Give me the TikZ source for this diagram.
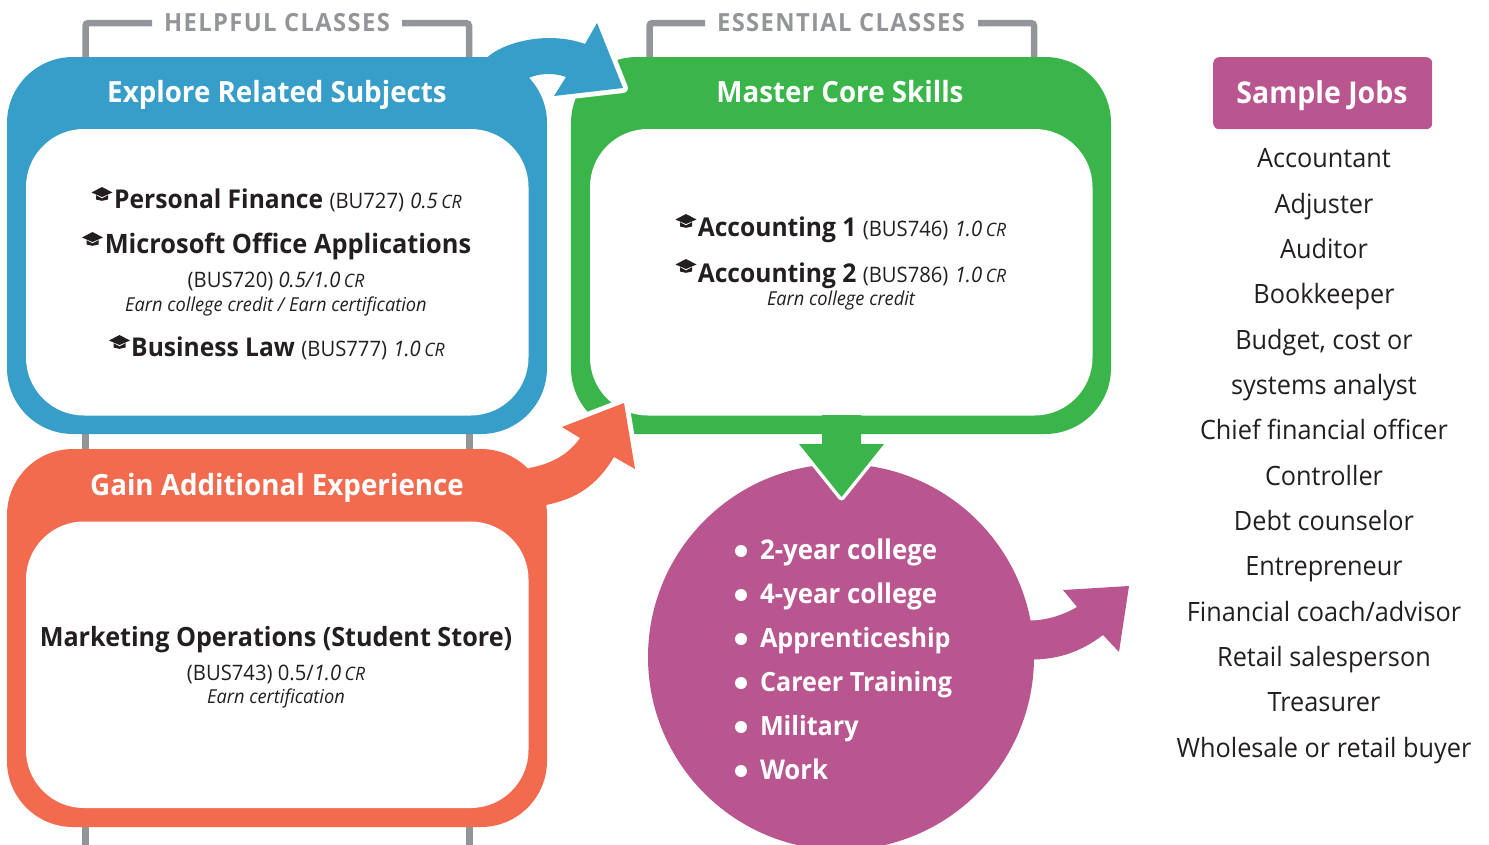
\documentclass[tikz,border=0pt]{standalone}
\usepackage{fontspec}
\setmainfont[FakeStretch=0.95]{Open Sans}
\definecolor{cblue}{HTML}{379EC9}
\definecolor{cgreen}{HTML}{3AB54A}
\definecolor{corange}{HTML}{F36B4E}
\definecolor{cpurple}{HTML}{B9558F}
\definecolor{cgray}{HTML}{939598}
\definecolor{cink}{HTML}{231F20}
\newcommand{\hd}{\fontsize{29.2}{32}\selectfont\bfseries}
\newcommand{\crs}{\fontsize{26.5}{30}\selectfont\bfseries}
\newcommand{\crt}{\fontsize{25.9}{30}\selectfont\bfseries}
\newcommand{\itm}{\fontsize{27.2}{30}\selectfont\bfseries}
\newcommand{\nm}{\fontsize{21.3}{24}\selectfont\mdseries}
\newcommand{\itl}{\fontsize{21.3}{24}\selectfont\mdseries\itshape}
\newcommand{\crm}{\fontsize{18.5}{24}\selectfont\mdseries\itshape}
\newcommand{\ear}{\fontsize{19.2}{22}\selectfont\mdseries\itshape}
\tikzset{
  x=1pt,y=-1pt,
  outerbox/.style={rectangle,rounded corners=66pt,minimum width=540pt,minimum height=377pt,inner sep=0pt,outer sep=0pt,anchor=north west},
  innerbox/.style={rectangle,fill=white,rounded corners=58pt,minimum width=502.5pt,minimum height=286.5pt,inner sep=0pt,outer sep=0pt,anchor=north west},
  txt/.style={anchor=base,inner sep=0pt,outer sep=0pt,text=cink,align=center},
  head/.style={anchor=base,inner sep=0pt,outer sep=0pt,text=white,font=\hd},
  course/.style={txt,font=\crs},
  courset/.style={txt,font=\crt},
  job/.style={txt,font=\fontsize{26.6}{30}\selectfont},
  item/.style={anchor=base west,inner sep=0pt,outer sep=0pt,text=white,font=\crs},
  dot/.style={circle,fill=white,minimum size=12pt,inner sep=0pt,outer sep=0pt},
  bracket/.style={draw=cgray,line width=6.5pt,rounded corners=3pt},
  halo/.style={draw=white,line width=10pt},
  cls/.style={anchor=base,inner sep=0pt,text=cgray,font=\fontsize{25}{28}\selectfont\bfseries\addfontfeature{LetterSpace=5.5}},
  gradcap/.pic={
    \fill[cink] (-10.5,-1.5) -- (0,-7) -- (10.5,-1.5) -- (0,3) -- cycle;
    \fill[cink] (-6,1.2) -- (0,4.4) -- (6,1.2) -- (6,5.5) -- (0,6.8) -- (-6,5.5) -- cycle;
  },
}
\begin{document}
\begin{tikzpicture}
\useasboundingbox (0,0) rectangle (1489,844);
\clip (0,0) rectangle (1489,844);

% grey brackets
\draw[bracket] (152,23) -- (85.5,23) -- (85.5,70);
\draw[bracket] (402,23) -- (469,23) -- (469,70);
\draw[bracket] (705,23) -- (649.5,23) -- (649.5,70);
\draw[bracket] (978,23) -- (1034,23) -- (1034,70);
\draw[cgray,line width=7pt] (85.5,425) -- (85.5,460);
\draw[cgray,line width=7pt] (469,425) -- (469,460);
\draw[cgray,line width=7pt] (85.5,815) -- (85.5,850);
\draw[cgray,line width=7pt] (469,815) -- (469,850);
\node[cls] (helpful) at (277,31) {HELPFUL CLASSES};
\node[cls] (essential) at (841,31) {ESSENTIAL CLASSES};

% boxes
\node[outerbox,fill=cgreen] (green) at (571,57) {};
\node[innerbox] (greenin) at (590,129) {};
\node[outerbox,fill=cblue] (blue) at (7,57) {};
\node[innerbox] (bluein) at (26,129) {};
\node[outerbox,fill=corange,minimum height=378pt] (orange) at (7,449) {};
\node[innerbox] (orangein) at (26,521.5) {};

% purple circle
\node[circle,fill=cpurple,minimum size=386pt,inner sep=0pt,outer sep=0pt] (circ) at (841,657) {};

% blue arrow
\filldraw[halo,line join=round,fill=cblue] (597,23) -- (623,88) -- (554,96) -- (566,77) -- (585,44) -- cycle;
\fill[cblue] (487,57.5) .. controls (505,41) and (550,31) .. (585,44) -- (597,23) -- (623,88) -- (554,96) -- (566,77) .. controls (555,73) and (542,73) .. (531,77) -- (500,90) -- cycle;

% orange arrow
\filldraw[halo,line join=miter,fill=corange] (624,403) -- (635,469) -- (614,457) -- (580,438) -- (562,427) -- cycle;
\fill[corange] (529,468) .. controls (551,464) and (568,455) .. (580,438) -- (562,427) -- (624,403) -- (635,469) -- (614,457) .. controls (596,487) and (575,499) .. (546,505) -- (500,500) -- cycle;

% green arrow
\filldraw[draw=white,line width=7pt,line join=round,fill=cgreen] (799,444) -- (884,444) -- (841.5,497) -- cycle;
\fill[cgreen] (822,415) -- (861,415) -- (861,444) -- (884,444) -- (841.5,497) -- (799,444) -- (822,444) -- cycle;

% purple arrow
\fill[cpurple] (1020,621) -- (1031,620.5) .. controls (1048,620) and (1063,615) .. (1077,607) -- (1063,590) -- (1129,586) -- (1119,652) -- (1103,635) .. controls (1082,651) and (1060,659) .. (1034,659.5) -- (1020,660) -- cycle;

% headers
\node[head] (h1) at (277,102) {Explore Related Subjects};
\node[head] (h2) at (840,102) {Master Core Skills};
\node[head] (h3) at (277,495) {Gain Additional Experience};

% blue content
\pic at (102,194) {gradcap};
\node[courset] (pf) at (288,208) {Personal Finance {\nm(BU727)} {\itl0.5\,\crm CR}};
\pic at (92.5,239) {gradcap};
\node[course,font=\fontsize{26.7}{30}\selectfont\bfseries] (mo) at (288,253) {Microsoft Office Applications};
\node[txt,font=\nm] (mo2) at (276,287) {(BUS720) {\itl0.5/1.0\,\crm CR}};
\node[txt,font=\ear] (mo3) at (276,311) {Earn college credit / Earn certification};
\pic at (119.5,342) {gradcap};
\node[courset] (bl) at (288,356) {Business Law {\nm(BUS777)} {\itl1.0\,\crm CR}};

% green content
\pic at (686,221) {gradcap};
\node[courset] (a1) at (852,236) {Accounting 1 {\nm(BUS746)} {\itl1.0\,\crm CR}};
\pic at (686,266) {gradcap};
\node[courset] (a2) at (852,282) {Accounting 2 {\nm(BUS786)} {\itl1.0\,\crm CR}};
\node[txt,font=\ear] (a3) at (841,305) {Earn college credit};

% orange content
\node[course] (mk) at (276,646) {Marketing Operations (Student Store)};
\node[txt,font=\nm] (mk2) at (276,680) {(BUS743) 0.5/{\itl1.0\,\crm CR}};
\node[txt,font=\ear] (mk3) at (276,703) {Earn certification};

% circle list
\node[dot] (d1) at (741,551) {};
\node[item,font=\itm] (i1) at (760,559) {2-year college};
\node[dot] (d2) at (741,595) {};
\node[item,font=\itm] (i2) at (760,603) {4-year college};
\node[dot] (d3) at (741,639) {};
\node[item] (i3) at (760,647) {Apprenticeship};
\node[dot] (d4) at (741,683) {};
\node[item] (i4) at (760,691) {Career Training};
\node[dot] (d5) at (741,727) {};
\node[item] (i5) at (760,735) {Military};
\node[dot] (d6) at (741,771) {};
\node[item,font=\itm] (i6) at (760,779) {Work};

% jobs
\node[rectangle,rounded corners=6pt,fill=cpurple,minimum width=219pt,minimum height=72pt,inner sep=0pt,anchor=north west] (jobs) at (1213,57) {};
\node[head,font=\fontsize{30}{34}\selectfont\bfseries] (jt) at (1322,103) {Sample Jobs};
\node[job] (j1) at (1324,167) {Accountant};
\node[job] (j2) at (1324,213) {Adjuster};
\node[job] (j3) at (1324,258) {Auditor};
\node[job] (j4) at (1324,303) {Bookkeeper};
\node[job] (j5) at (1324,349) {Budget, cost or};
\node[job] (j6) at (1324,394) {systems analyst};
\node[job] (j7) at (1324,439) {Chief financial officer};
\node[job] (j8) at (1324,485) {Controller};
\node[job] (j9) at (1324,530) {Debt counselor};
\node[job] (j10) at (1324,575) {Entrepreneur};
\node[job] (j11) at (1324,621) {Financial coach/advisor};
\node[job] (j12) at (1324,666) {Retail salesperson};
\node[job] (j13) at (1324,711) {Treasurer};
\node[job] (j14) at (1324,757) {Wholesale or retail buyer};
\end{tikzpicture}
\end{document}
